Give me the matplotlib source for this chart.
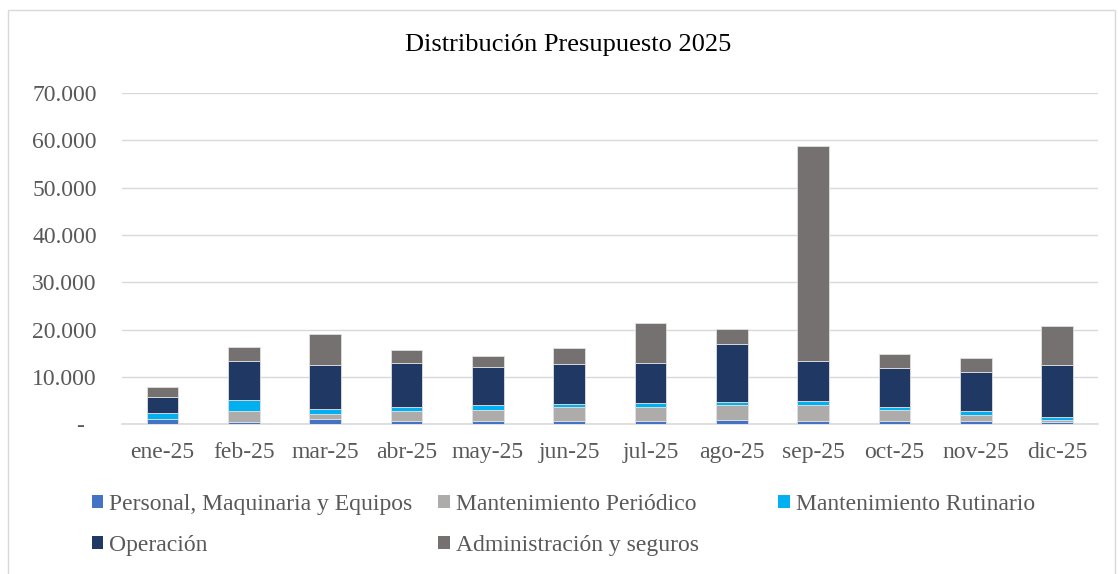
import numpy as np
import matplotlib.pyplot as plt
from matplotlib.patches import Rectangle, Patch

plt.rcParams['font.family'] = ['Liberation Serif', 'DejaVu Serif']

months = ['ene-25', 'feb-25', 'mar-25', 'abr-25', 'may-25', 'jun-25',
          'jul-25', 'ago-25', 'sep-25', 'oct-25', 'nov-25', 'dic-25']

# valores
personal = [1000, 500, 1100, 700, 700, 600, 700, 900, 700, 700, 600, 500]
periodico = [0, 2300, 1000, 2100, 2250, 3000, 2900, 3100, 3300, 2200, 1350, 350]
rutinario = [1300, 2250, 1050, 850, 1050, 700, 850, 700, 1000, 700, 750, 650]
operacion = [3500, 8300, 9450, 9300, 8100, 8450, 8500, 12250, 8350, 8300, 8300, 11100]
admin = [2100, 2950, 6550, 2800, 2250, 3250, 8450, 3250, 45350, 3000, 2950, 8100]

series = [
    ('Personal, Maquinaria y Equipos', personal, '#4472C4'),
    ('Mantenimiento Periódico', periodico, '#AEABAB'),
    ('Mantenimiento Rutinario', rutinario, '#00B0F0'),
    ('Operación', operacion, '#1F3864'),
    ('Administración y seguros', admin, '#767171'),
]

yticks = [0, 10000, 20000, 30000, 40000, 50000, 60000, 70000]
ytick_labels = ['-\u00a0\u00a0', '10.000', '20.000', '30.000', '40.000',
                '50.000', '60.000', '70.000']

fig = plt.figure(figsize=(11.18, 5.74), dpi=100)
ax = fig.add_axes([0.109, 0.261, 0.873, 0.577])

x = np.arange(len(months))
bottom = np.zeros(len(months))
handles = []
for name, vals, color in series:
    ax.bar(x, vals, 0.39, bottom=bottom, color=color, edgecolor='#e0e0e0',
           linewidth=0.6, zorder=3)
    bottom += np.array(vals)
    handles.append(Patch(facecolor=color, label=name))

ax.set_xlim(-0.5, len(months) - 0.5)
ax.set_ylim(0, 70000)
ax.set_yticks(yticks)
ax.set_yticklabels(ytick_labels)
ax.set_xticks(x)
ax.set_xticklabels(months)
ax.tick_params(axis='both', length=0, labelsize=17, colors='#595959')
ax.tick_params(axis='x', pad=13)
ax.tick_params(axis='y', pad=18)
ax.grid(axis='y', color='#d9d9d9', linewidth=1, zorder=0)
for s in ['top', 'right', 'left']:
    ax.spines[s].set_visible(False)
ax.spines['bottom'].set_color('#d9d9d9')
ax.spines['bottom'].set_linewidth(1.2)

fig.text(0.508, 0.921, 'Distribución Presupuesto 2025', ha='center', va='center',
         fontsize=19, color='black')

# leyenda en tres columnas
cols = [[handles[0], handles[3]], [handles[1], handles[4]], [handles[2]]]
xpos = [0.082, 0.392, 0.696]
for hs, xp in zip(cols, xpos):
    leg = fig.legend(handles=hs, loc='upper left', bbox_to_anchor=(xp, 0.140),
                     frameon=False, prop={'family': 'Liberation Serif', 'size': 17},
                     handlelength=0.5, handleheight=0.5,
                     handletextpad=0.25, labelspacing=0.85, borderaxespad=0,
                     borderpad=0)
    for t in leg.get_texts():
        t.set_color('#595959')

fig.patches.append(Rectangle((0.007, -0.01), 0.99, 0.993, transform=fig.transFigure,
                             fill=False, edgecolor='#d9d9d9', linewidth=1))

fig.savefig('out.png', dpi=100)
